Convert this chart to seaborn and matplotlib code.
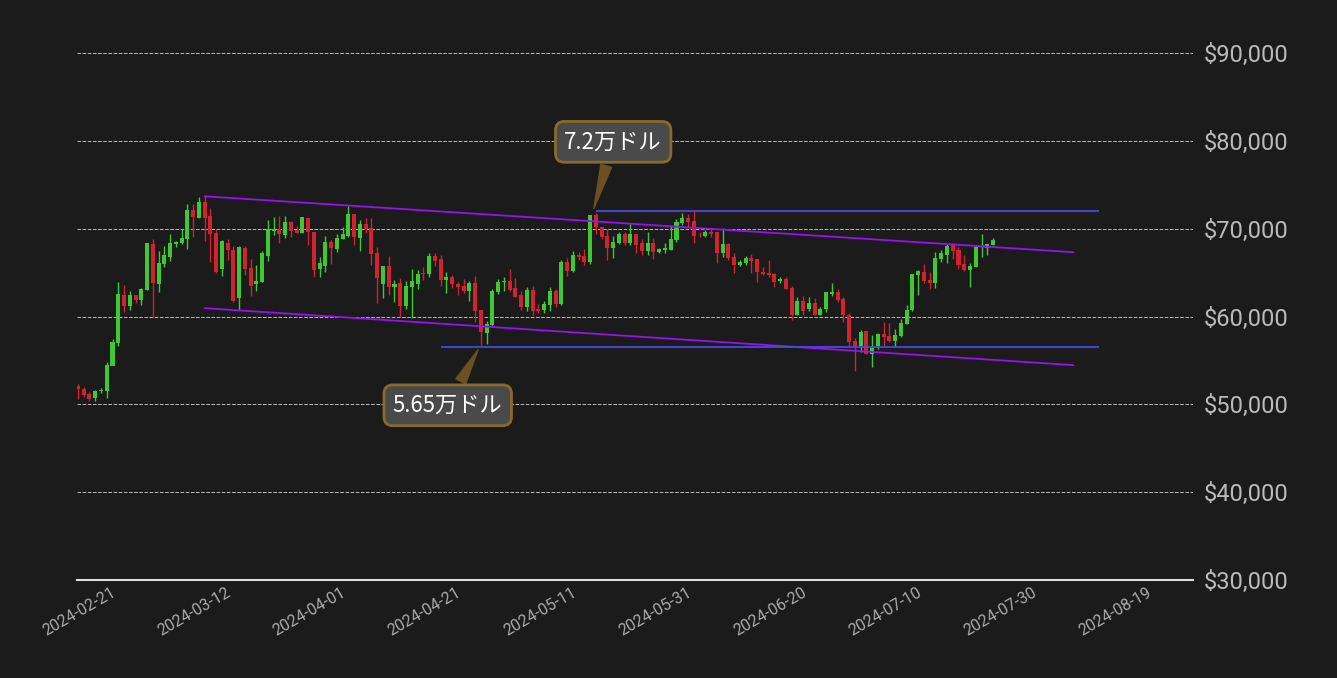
import numpy as np
import pandas as pd
import matplotlib
matplotlib.use("Agg")
from matplotlib import pyplot as plt
import matplotlib.dates as mdates
import seaborn as sns

# 日足データ（チャートから読み取り）
start_date = "2024-02-14"
opens = [52140, 51790, 51220, 50690, 51490, 51560, 54420, 56950, 62440, 61180,
         62440, 61870, 63020, 68280, 63700, 66000, 66800, 68280, 68400, 68850,
         72180, 71260, 73090, 71490, 69540, 65420, 68400, 67600, 62100, 67830,
         65530, 63700, 63930, 66910, 69770, 70000, 69310, 70800, 69890, 69540,
         71260, 69660, 65420, 65760, 68510, 67710, 68850, 69200, 71720, 68970,
         70570, 70110, 67250, 63700, 65760, 63360, 63820, 61180, 63360, 63700,
         64960, 64850, 66910, 66560, 64160, 64500, 63700, 63470, 62900, 63820,
         60720, 58120, 59010, 62780, 63930, 64050, 63240, 62440, 61070, 63020,
         60840, 60720, 61300, 62950, 61420, 66250, 65210, 67050, 66940, 66250,
         71530, 70150, 69230, 67860, 68430, 69350, 68430, 69460, 68430, 67510,
         68430, 67400, 67620, 67620, 68770, 70610, 71190, 70840, 69460, 69230,
         69690, 69580, 67280, 68310, 66820, 65900, 66130, 66710, 66590, 65100,
         64980, 64870, 64060, 64290, 63260, 60170, 61770, 60860, 61540, 60170,
         60860, 62570, 62800, 62000, 60170, 57190, 56620, 58330, 55690, 56620,
         57990, 57760, 57190, 57760, 59130, 60740, 64750, 65090, 64170, 63830,
         66580, 67030, 68180, 67600, 66000, 65320, 65660, 67920, 67800, 68180]
closes = [51720, 51100, 50570, 51560, 51680, 54540, 57060, 62560, 61180, 62440,
          61870, 63130, 68400, 63820, 66110, 67020, 68400, 68550, 68970, 72180,
          71370, 73090, 71260, 69430, 65080, 68630, 67600, 61760, 67940, 65420,
          63470, 64050, 67250, 70000, 70000, 69430, 70800, 69770, 69540, 71370,
          69660, 65300, 66110, 68510, 67830, 68970, 69430, 71720, 69080, 70570,
          70000, 67140, 64390, 65760, 63360, 63700, 61180, 63470, 64050, 64850,
          64850, 66910, 66340, 64160, 64500, 63700, 63360, 62900, 63820, 60610,
          58200, 59120, 62900, 63930, 64050, 63020, 62210, 61070, 63020, 60610,
          60610, 61410, 62900, 61420, 66250, 65210, 67050, 66820, 66250, 71530,
          70150, 69120, 67860, 68540, 69350, 68430, 69460, 68200, 67510, 68430,
          67400, 67740, 67860, 68890, 70730, 71190, 70730, 69230, 69350, 69690,
          69460, 67280, 68310, 66710, 65900, 66250, 66710, 66360, 65100, 64870,
          64750, 63950, 64290, 63140, 60160, 61770, 60630, 61540, 60170, 60860,
          62800, 62800, 61880, 60170, 57080, 56620, 58220, 55690, 56390, 57990,
          57650, 57190, 57880, 59240, 60740, 64860, 65200, 64060, 63830, 66690,
          67260, 68060, 67490, 65890, 65320, 65770, 67940, 67960, 68300, 68750]
highs = [52330, 51950, 51450, 51680, 51910, 54880, 57480, 63930, 63590, 62900,
         62440, 63210, 68400, 68850, 67480, 68050, 69430, 68630, 69960, 72860,
         72860, 73660, 73890, 72400, 70000, 68740, 68850, 68050, 68050, 68050,
         66560, 65880, 67480, 71030, 71370, 71490, 71490, 70920, 70340, 71370,
         71260, 69660, 66790, 69200, 68740, 69430, 70230, 72630, 71720, 71030,
         71260, 71260, 67940, 65760, 66910, 64160, 64390, 64050, 65420, 65300,
         65650, 67250, 67250, 67020, 65080, 64730, 63930, 64280, 64050, 64620,
         60720, 59460, 63130, 64280, 64500, 65420, 64390, 62900, 63360, 63470,
         61410, 61760, 63360, 63110, 66480, 66630, 67510, 67400, 67740, 71530,
         71760, 70150, 69920, 69230, 69580, 69580, 70610, 69460, 68890, 69580,
         69000, 67860, 68430, 70270, 71070, 71760, 71650, 71990, 69690, 69810,
         70040, 69580, 70040, 68430, 67280, 66480, 66940, 67170, 66590, 65670,
         66480, 64980, 64520, 64520, 63490, 62230, 62340, 62230, 62110, 61090,
         62800, 63830, 63140, 62230, 60400, 57530, 58450, 58330, 57870, 58100,
         59350, 59240, 58560, 59700, 61310, 64860, 65320, 66000, 65090, 67370,
         67600, 68290, 68410, 67940, 67030, 66120, 68180, 69450, 68300, 68980]
lows = [50610, 50900, 50420, 50420, 51300, 50760, 56600, 56600, 60500, 60720,
        61530, 61300, 63020, 59810, 62790, 65650, 66340, 67940, 68280, 67710,
        69080, 71260, 68630, 66220, 64960, 64620, 66450, 61640, 60720, 64730,
        62330, 62900, 63930, 66340, 69310, 68400, 68970, 69080, 69540, 69540,
        68170, 64500, 64500, 65080, 65990, 67370, 68850, 69080, 68170, 67480,
        69540, 65880, 61530, 62100, 62440, 61640, 59920, 60840, 59810, 63130,
        64160, 64500, 65760, 63470, 62670, 63240, 62440, 62670, 61760, 59350,
        56720, 56840, 58900, 62560, 62900, 62900, 62210, 60720, 60610, 60150,
        60380, 60380, 60610, 61110, 61300, 64640, 65100, 66480, 65900, 66020,
        69350, 68890, 66480, 66710, 68310, 68200, 68200, 67280, 67050, 67050,
        66590, 67280, 67280, 67620, 68540, 70380, 70150, 68430, 69120, 69120,
        69120, 66130, 66820, 66480, 64980, 65790, 65900, 64980, 63950, 64750,
        64520, 63380, 63830, 63140, 59580, 60170, 60170, 60630, 60170, 60170,
        60550, 62340, 61660, 59350, 56620, 53760, 55930, 55690, 54220, 56280,
        56620, 57080, 56510, 57650, 59130, 60630, 62460, 63830, 63140, 63260,
        66230, 66120, 66570, 65430, 65200, 63370, 65660, 66810, 67030, 68180]

# トレンドライン
channel_dates = ["2024-03-07 00:00", "2024-08-05 00:00"]
upper_values = [73700, 67330]
lower_values = [60960, 54470]
resistance_dates = ["2024-05-14 00:00", "2024-08-09 12:00"]
resistance = 72000
support_dates = ["2024-04-17 00:00", "2024-08-09 12:00"]
support = 56500

y_ticks = [30000, 40000, 50000, 60000, 70000, 80000, 90000]

BG = "#1b1b1b"
UP = "#3ec932"
DOWN = "#d0222f"

sns.set_theme(style="dark")
plt.rcParams["font.family"] = ["Noto Sans CJK JP", "DejaVu Sans"]

df = pd.DataFrame({"open": opens, "high": highs, "low": lows, "close": closes})
df["date"] = pd.date_range(start_date, periods=len(df), freq="D")
df["color"] = np.where(df["close"] >= df["open"], UP, DOWN)

fig = plt.figure(figsize=(13.37, 6.78), dpi=100, facecolor=BG)
ax = fig.add_axes([0.0576, 0.1445, 0.8347, 0.803])
ax.set_facecolor(BG)

# ローソク足
ax.vlines(df["date"], df["low"], df["high"], colors=df["color"], linewidth=1)
body_h = (df["close"] - df["open"]).abs().clip(lower=80)
ax.bar(df["date"], body_h, bottom=df[["open", "close"]].min(axis=1),
       width=0.7, color=df["color"], linewidth=0)

# チャネル・水平線
cd = pd.to_datetime(channel_dates)
sns.lineplot(x=cd, y=upper_values, color="#9a10f0", linewidth=1.3, ax=ax)
sns.lineplot(x=cd, y=lower_values, color="#9a10f0", linewidth=1.3, ax=ax)
r0, r1 = pd.to_datetime(resistance_dates)
s0, s1 = pd.to_datetime(support_dates)
ax.hlines(resistance, r0, r1, color="#4a48e0", linewidth=1.3)
ax.hlines(support, s0, s1, color="#4a48e0", linewidth=1.3)

box = dict(boxstyle="round,pad=0.4", fc="#4a4a4a", ec="#8a6a28", lw=2)
arrow = dict(arrowstyle="wedge,tail_width=0.5", fc="#6b5020", ec="#6b5020")
ax.annotate("7.2万ドル", xy=(pd.Timestamp("2024-05-13 12:00"), 72000),
            xytext=(pd.Timestamp("2024-05-17 00:00"), 79900),
            ha="center", va="center", fontsize=16, color="white",
            bbox=box, arrowprops=arrow)
ax.annotate("5.65万ドル", xy=(pd.Timestamp("2024-04-23 18:00"), 56500),
            xytext=(pd.Timestamp("2024-04-18 06:00"), 49900),
            ha="center", va="center", fontsize=16, color="white",
            bbox=box, arrowprops=arrow)

ax.set_xlim(pd.Timestamp("2024-02-13 20:00"), pd.Timestamp("2024-08-25 18:00"))
ax.set_ylim(30000, 92000)
ax.set_xticks(pd.date_range("2024-02-21", periods=10, freq="20D"))
ax.xaxis.set_major_formatter(mdates.DateFormatter("%Y-%m-%d"))
plt.setp(ax.get_xticklabels(), rotation=30, ha="right", fontsize=11.5,
         color="#aaaaaa", family=["Roboto", "DejaVu Sans"])

ax.yaxis.tick_right()
ax.set_yticks(y_ticks)
ax.set_yticklabels([f"${v:,}" for v in y_ticks], fontsize=17, color="#bbbbbb",
                   family=["Roboto", "DejaVu Sans"])
ax.tick_params(axis="both", length=0)
ax.tick_params(axis="y", pad=8)
ax.grid(axis="y", color="#bbbbbb", linestyle="--", linewidth=0.7)
ax.grid(axis="x", visible=False)
for side in ["top", "left", "right"]:
    ax.spines[side].set_visible(False)
ax.spines["bottom"].set_color("#dddddd")
ax.spines["bottom"].set_linewidth(1.5)
ax.set_xlabel("")
ax.set_ylabel("")

fig.savefig("out.png", dpi=100, facecolor=BG)
